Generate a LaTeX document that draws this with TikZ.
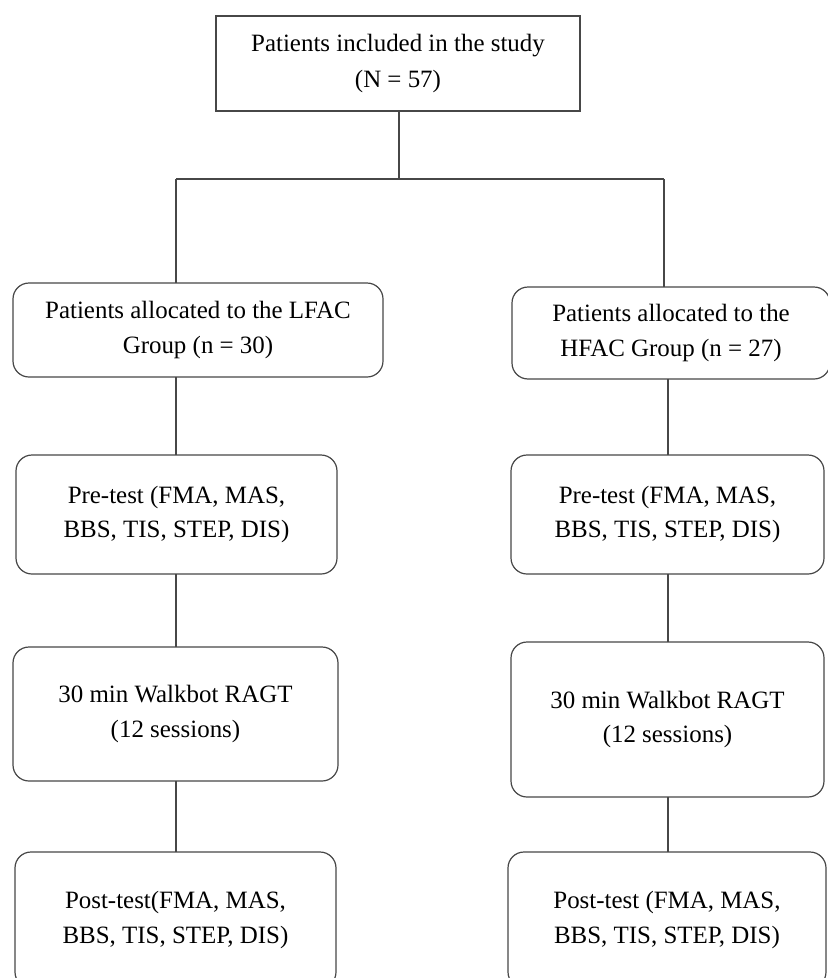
\documentclass[tikz,border=0pt]{standalone}
\usepackage{fontspec}
\setmainfont{Liberation Serif}
\begin{document}
\begin{tikzpicture}[x=0.75pt,y=-0.75pt,
  line width=0.9pt,
  boxbase/.style={draw=black!72, line width=0.9pt, inner sep=0pt, outer sep=0pt, align=center,
    font=\fontsize{18.7pt}{25.9pt}\selectfont, text=black},
  sqbox/.style={boxbase},
  rbox/.style={boxbase, rounded corners=12pt},
  conn/.style={draw=black!72, line width=0.9pt}]
\useasboundingbox (0,0) rectangle (828,978);
\clip (0,0) rectangle (828,978);
\fill[white] (0,0) rectangle (828,978);

% top
\node[sqbox, minimum width=273pt, minimum height=71.25pt,
  font=\fontsize{18.7pt}{27pt}\selectfont] (top) at (398,63.5)
  {Patients included in the study\\(N = 57)};

% left column
\node[rbox, minimum width=277.5pt, minimum height=70.5pt] (l1) at (198,330)
  {Patients allocated to the LFAC\\Group (n = 30)};
\node[rbox, minimum width=240.75pt, minimum height=89.25pt] (l2) at (176.5,514.5)
  {Pre-test (FMA, MAS,\\BBS, TIS, STEP, DIS)};
\node[rbox, minimum width=243.75pt, minimum height=100.5pt] (l3) at (175.5,714)
  {30 min Walkbot RAGT\\(12 sessions)};
\node[rbox, minimum width=240.75pt, minimum height=102pt] (l4) at (175.5,920)
  {Post-test(FMA, MAS,\\BBS, TIS, STEP, DIS)};

% right column
\node[rbox, minimum width=238.5pt, minimum height=69pt] (r1) at (671,333)
  {Patients allocated to the\\HFAC Group (n = 27)};
\node[rbox, minimum width=234.75pt, minimum height=89.25pt] (r2) at (667.5,514.5)
  {Pre-test (FMA, MAS,\\BBS, TIS, STEP, DIS)};
\node[rbox, minimum width=234.75pt, minimum height=116.25pt] (r3) at (667.5,719.5)
  {30 min Walkbot RAGT\\(12 sessions)};
\node[rbox, minimum width=238.5pt, minimum height=102pt] (r4) at (667,920)
  {Post-test (FMA, MAS,\\BBS, TIS, STEP, DIS)};

% junction coordinates
\coordinate (j) at (399,179);
\coordinate (jl) at (176,179);
\coordinate (jr) at (664,179);
\coordinate (xl) at (176,0);
\coordinate (xr) at (668,0);

% connectors
\draw[conn] (top.south -| j) -- (j);
\draw[conn] (jl) -- (jr);
\draw[conn] (jl) -- (jl |- l1.north);
\draw[conn] (jr) -- (jr |- r1.north);

\draw[conn] (l1.south -| xl) -- (l2.north -| xl);
\draw[conn] (l2.south -| xl) -- (l3.north -| xl);
\draw[conn] (l3.south -| xl) -- (l4.north -| xl);

\draw[conn] (r1.south -| xr) -- (r2.north -| xr);
\draw[conn] (r2.south -| xr) -- (r3.north -| xr);
\draw[conn] (r3.south -| xr) -- (r4.north -| xr);
\end{tikzpicture}
\end{document}
